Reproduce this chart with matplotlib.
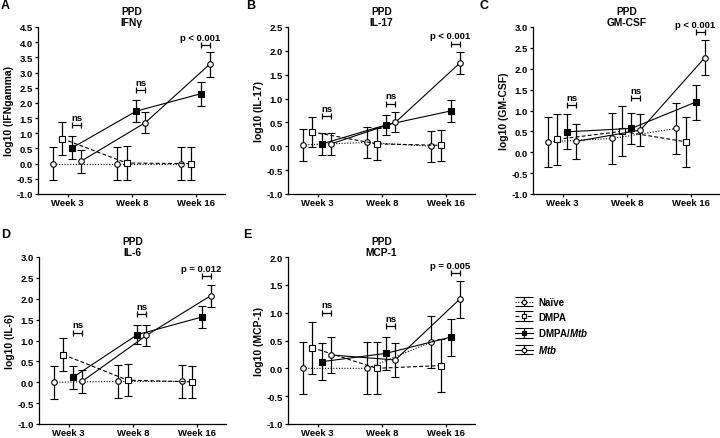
import matplotlib
matplotlib.use('Agg')
import matplotlib.pyplot as plt
from matplotlib.legend_handler import HandlerErrorbar
from matplotlib.container import ErrorbarContainer
import numpy as np

plt.rcParams['font.family'] = ['Liberation Sans', 'DejaVu Sans']
plt.rcParams['font.weight'] = 'bold'
plt.rcParams['axes.unicode_minus'] = False
plt.rcParams['mathtext.fontset'] = 'custom'
plt.rcParams['mathtext.it'] = 'Liberation Sans:italic:bold'
plt.rcParams['mathtext.rm'] = 'Liberation Sans:bold'

weeks = ['Week 3', 'Week 8', 'Week 16']
groups = ['Naïve', 'DMPA', 'DMPA/$\\mathit{Mtb}$', '$\\mathit{Mtb}$']

# means per group (naive, DMPA, DMPA/Mtb, Mtb), one row per group
ifng_mean = [[0.0, 0.0, 0.0], [0.82, 0.02, 0.0], [0.52, 1.73, 2.3], [0.08, 1.35, 3.27]]
ifng_err = [[0.55, 0.55, 0.55], [0.55, 0.55, 0.55], [0.38, 0.36, 0.4], [0.38, 0.35, 0.42]]
ifng_bracket = [1.26, 2.42, 3.9]
ifng_pval = ['ns', 'ns', 'p < 0.001']

il17_mean = [[0.03, 0.08, 0.0], [0.3, 0.05, 0.02], [0.05, 0.45, 0.74], [0.05, 0.5, 1.74]]
il17_err = [[0.33, 0.33, 0.33], [0.32, 0.33, 0.33], [0.23, 0.21, 0.23], [0.23, 0.21, 0.23]]
il17_bracket = [0.63, 0.89, 2.15]
il17_pval = ['ns', 'ns', 'p < 0.001']

gmcsf_mean = [[0.25, 0.33, 0.57], [0.31, 0.5, 0.25], [0.49, 0.57, 1.2], [0.26, 0.53, 2.26]]
gmcsf_err = [[0.6, 0.6, 0.6], [0.61, 0.6, 0.6], [0.42, 0.38, 0.42], [0.42, 0.38, 0.42]]
gmcsf_bracket = [1.12, 1.3, 2.88]
gmcsf_pval = ['ns', 'ns', 'p < 0.001']

il6_mean = [[0.0, 0.02, 0.02], [0.66, 0.05, 0.01], [0.12, 1.14, 1.56], [0.02, 1.12, 2.07]]
il6_err = [[0.39, 0.39, 0.39], [0.39, 0.39, 0.39], [0.27, 0.23, 0.27], [0.27, 0.24, 0.27]]
il6_bracket = [1.19, 1.63, 2.54]
il6_pval = ['ns', 'ns', 'p = 0.012']

mcp1_mean = [[0.0, 0.0, 0.47], [0.37, 0.0, 0.05], [0.12, 0.27, 0.56], [0.24, 0.15, 1.24]]
mcp1_err = [[0.47, 0.47, 0.47], [0.47, 0.47, 0.47], [0.33, 0.3, 0.33], [0.33, 0.3, 0.33]]
mcp1_bracket = [1.0, 0.76, 1.71]
mcp1_pval = ['ns', 'ns', 'p = 0.005']

offsets = [-0.23, -0.08, 0.07, 0.21]
styles = [
    dict(ls=(0, (1, 1.5)), marker='o', mfc='white'),
    dict(ls=(0, (3.5, 2)), marker='s', mfc='white'),
    dict(ls='-', marker='s', mfc='black'),
    dict(ls='-', marker='o', mfc='white'),
]

FS = 6.8
W = 187 / 720
H_TOP = (195 - 28) / 439
H_BOT = (425 - 258) / 439

panels = [
    # letter, cytokine, ylabel, means, errs, bracket, pvals, ylim, rect, letter pos
    ('A', 'IFNγ', 'log10 (IFNgamma)', ifng_mean, ifng_err, ifng_bracket, ifng_pval,
     (-1.0, 4.5), [38 / 720, 1 - 195 / 439, W, H_TOP], (1, 0)),
    ('B', 'IL-17', 'log10 (IL-17)', il17_mean, il17_err, il17_bracket, il17_pval,
     (-1.0, 2.5), [288 / 720, 1 - 195 / 439, W, H_TOP], (246, 0)),
    ('C', 'GM-CSF', 'log10 (GM-CSF)', gmcsf_mean, gmcsf_err, gmcsf_bracket, gmcsf_pval,
     (-1.0, 3.0), [533 / 720, 1 - 195 / 439, W, H_TOP], (480, 0)),
    ('D', 'IL-6', 'log10 (IL-6)', il6_mean, il6_err, il6_bracket, il6_pval,
     (-1.0, 3.0), [39 / 720, 1 - 425 / 439, W, H_BOT], (1, 229)),
    ('E', 'MCP-1', 'log10 (MCP-1)', mcp1_mean, mcp1_err, mcp1_bracket, mcp1_pval,
     (-1.0, 2.0), [288 / 720, 1 - 425 / 439, W, H_BOT], (243, 229)),
]

fig = plt.figure(figsize=(7.2, 4.39), dpi=100)

handles = []
for letter, cyto, ylab, means, errs, brk, pvals, ylim, rect, lpos in panels:
    ax = fig.add_axes(rect)
    x = np.arange(len(weeks))
    handles = []
    for g in range(4):
        st = styles[g]
        h = ax.errorbar(x + offsets[g], means[g], yerr=errs[g], color='black',
                        ls=st['ls'], lw=0.8, marker=st['marker'], ms=4,
                        mfc=st['mfc'], mec='black', mew=0.8,
                        elinewidth=0.9, capsize=3, capthick=0.9, zorder=3 + g,
                        clip_on=False)
        handles.append(h)

    # significance brackets between DMPA/Mtb and Mtb
    for i in range(len(weeks)):
        x0 = x[i] + offsets[2]
        x1 = x[i] + offsets[3]
        ax.errorbar([(x0 + x1) / 2], [brk[i]], xerr=[(x1 - x0) / 2], color='black',
                    lw=0.9, capsize=2.2, capthick=0.9, fmt='none', clip_on=False)
        tx = (x0 + x1) / 2 if pvals[i] == 'ns' else x[i] + 0.06
        ax.annotate(pvals[i], (tx, brk[i]), xytext=(0, 2.5), textcoords='offset points',
                    ha='center', va='bottom', fontsize=FS, fontweight='bold',
                    annotation_clip=False)

    ax.set_xlim(-0.46, 2.45)
    ax.set_ylim(*ylim)
    ticks = np.arange(ylim[0], ylim[1] + 0.01, 0.5)
    ax.set_yticks(ticks)
    ax.set_yticklabels(['%.1f' % v for v in ticks])
    ax.set_xticks(x)
    ax.set_xticklabels(weeks)
    ax.tick_params(labelsize=FS, width=0.9)
    ax.tick_params(axis='y', length=2.5, pad=1.2)
    ax.tick_params(axis='x', length=2, pad=0.8)
    for lab in ax.get_xticklabels() + ax.get_yticklabels():
        lab.set_fontweight('bold')
    ax.spines['top'].set_visible(False)
    ax.spines['right'].set_visible(False)
    ax.spines['left'].set_linewidth(0.9)
    ax.spines['bottom'].set_linewidth(0.9)
    ax.set_ylabel(ylab, fontsize=7.5, fontweight='bold', labelpad=2)
    ax.set_title('PPD\n' + cyto, fontsize=7.4, fontweight='bold', pad=1.5, linespacing=1.15)

    fig.text(lpos[0] / 720, 1 - lpos[1] / 439, letter, fontsize=9, fontweight='bold',
             ha='left', va='top')


def wide_caps(legend_handle, orig_handle):
    legend_handle.update_from(orig_handle)
    if hasattr(legend_handle, 'get_marker') and legend_handle.get_marker() == '_':
        legend_handle.set_markersize(13)


fig.legend(handles, groups, loc='upper left', bbox_to_anchor=(515 / 720, 1 - 298 / 439),
           frameon=False, borderpad=0, borderaxespad=0, markerscale=0.8,
           handlelength=1.9, handletextpad=0.5, labelspacing=0.48,
           prop={'weight': 'bold', 'size': 7},
           handler_map={ErrorbarContainer: HandlerErrorbar(update_func=wide_caps)})

fig.savefig('out.png', dpi=100)
